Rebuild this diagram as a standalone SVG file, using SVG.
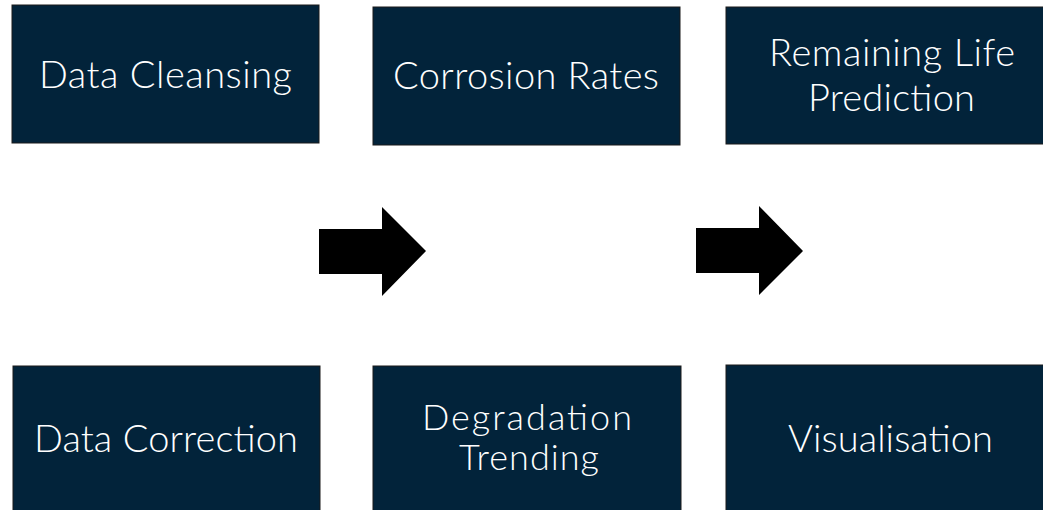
<svg xmlns="http://www.w3.org/2000/svg" width="1043" height="510" viewBox="0 0 1043 510">
<style>
.box{fill:#02233A;stroke:#1b1b1b;stroke-width:1}
.lbl{fill:#ffffff;font-family:Lato,"Open Sans","Liberation Sans",sans-serif;font-weight:300;font-size:38px;text-anchor:middle}
.sm{font-size:36px}
.arr{fill:#000000}
</style>
<rect width="1043" height="510" fill="#ffffff"/>
<g id="data-cleansing"><rect class="box" x="12" y="5" width="307" height="138"/><text class="lbl" x="165.5" y="88" textLength="253">Data Cleansing</text></g>
<g id="corrosion-rates"><rect class="box" x="373" y="7" width="307" height="138"/><text class="lbl" x="526" y="89" textLength="266">Corrosion Rates</text></g>
<g id="remaining-life"><rect class="box" x="726" y="7" width="332" height="137"/><text class="lbl" x="892" y="66" textLength="246">Remaining Life</text><text class="lbl" x="891.5" y="111" textLength="167">Prediction</text></g>
<g id="data-correction"><rect class="box" x="13" y="366" width="307" height="146"/><text class="lbl" x="166" y="452" textLength="264">Data Correction</text></g>
<g id="degradation-trending"><rect class="box" x="373" y="366" width="308" height="146"/><text class="lbl sm" x="527" y="430" textLength="210">Degradation</text><text class="lbl sm" x="529" y="470" textLength="140">Trending</text></g>
<g id="visualisation"><rect class="box" x="726" y="365" width="332" height="147"/><text class="lbl" x="890.5" y="452" textLength="205">Visualisation</text></g>
<g id="connectors">
<polygon class="arr" points="319,229 382,229 382,207 426,251 382,296 382,274 319,274"/>
<polygon class="arr" points="696,228 759,228 759,206 803,251 759,295 759,273 696,273"/>
</g>
</svg>
